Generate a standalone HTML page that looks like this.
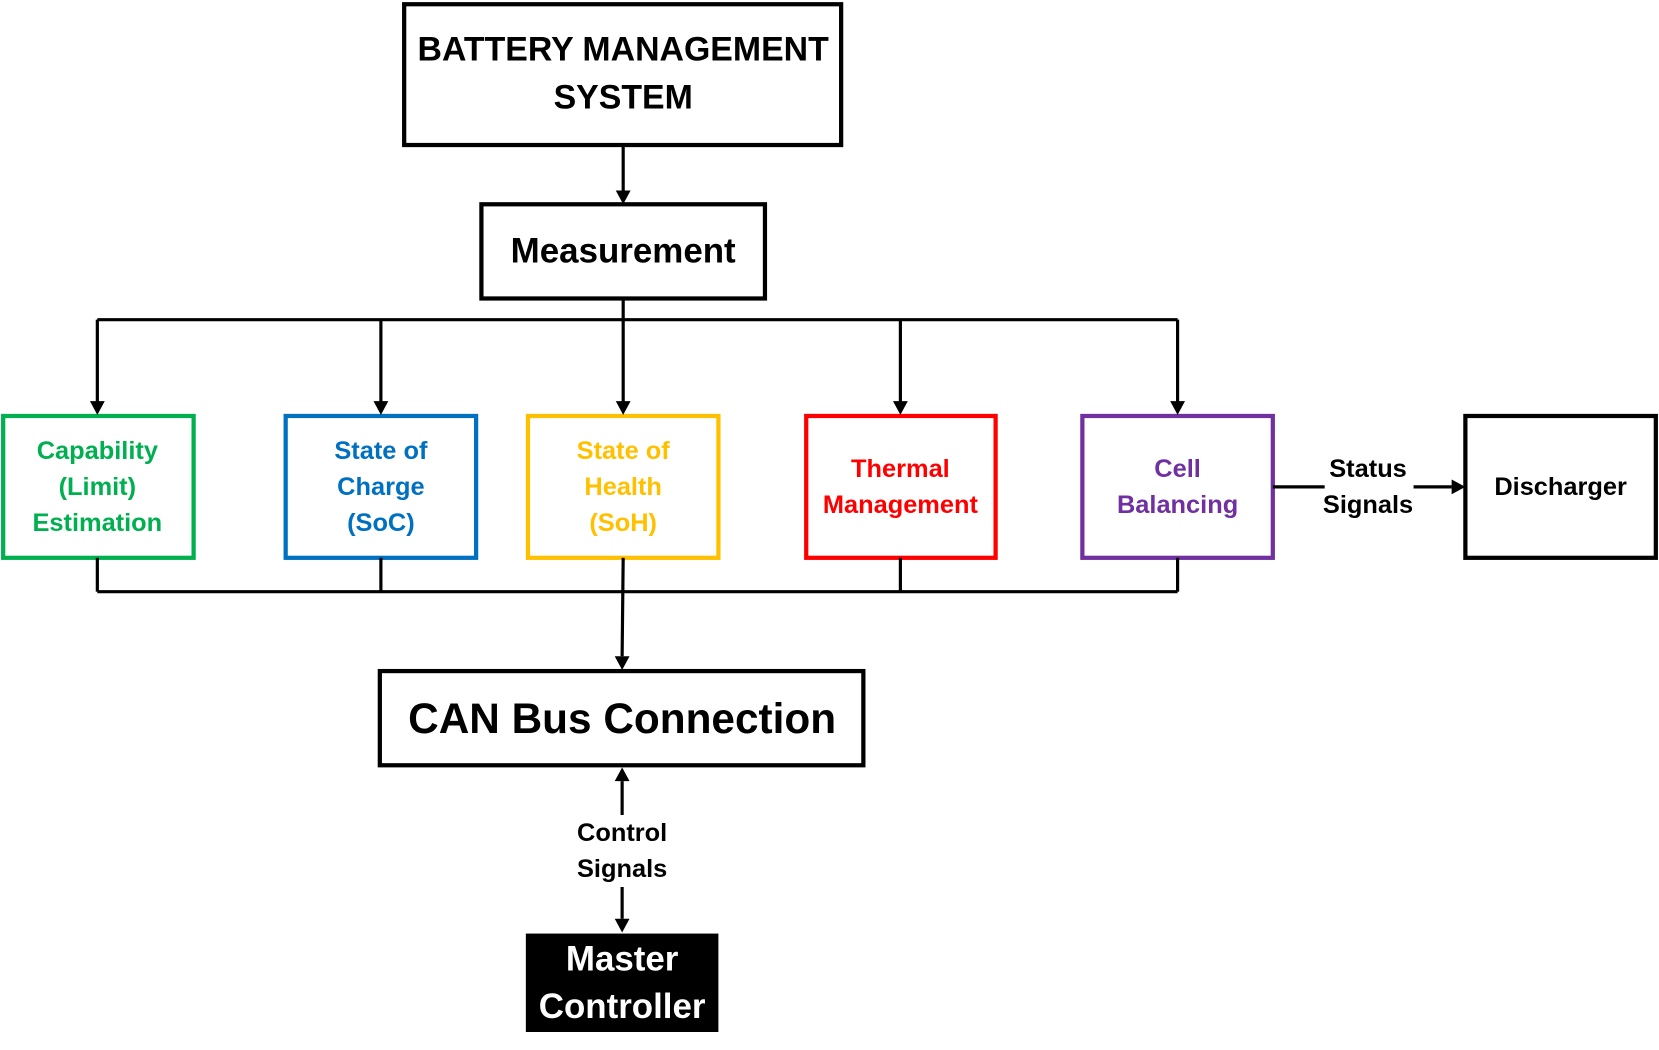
<!DOCTYPE html>
<html><head><meta charset="utf-8"><style>
html,body{margin:0;padding:0;background:#fff;}
svg{display:block;}
text{font-family:"Liberation Sans",sans-serif;font-weight:bold;text-anchor:middle;dominant-baseline:central;}
</style></head><body>
<svg width="1659" height="1050" viewBox="0 0 1568 992" preserveAspectRatio="none" xmlns="http://www.w3.org/2000/svg">
<g fill="none" stroke="#000" stroke-width="3">
<rect x="382" y="4" width="413" height="133" stroke-width="4"/>
<rect x="455" y="193" width="268" height="89" stroke-width="4"/>
<rect x="359" y="634" width="457" height="89" stroke-width="4"/>
<rect x="1385" y="393" width="180" height="134" stroke-width="4"/>
<rect x="3" y="393" width="180" height="134" stroke="#00b050" stroke-width="4"/>
<rect x="270" y="393" width="180" height="134" stroke="#0070c0" stroke-width="4"/>
<rect x="499" y="393" width="180" height="134" stroke="#ffc000" stroke-width="4"/>
<rect x="762" y="393" width="179" height="134" stroke="#ff0000" stroke-width="4"/>
<rect x="1023" y="393" width="180" height="134" stroke="#7030a0" stroke-width="4"/>
<line x1="589" y1="137" x2="589" y2="180"/>
<line x1="589" y1="282" x2="589" y2="302"/>
<line x1="92" y1="302" x2="1113" y2="302"/>
<line x1="92" y1="302" x2="92" y2="380"/>
<line x1="360" y1="302" x2="360" y2="380"/>
<line x1="589" y1="302" x2="589" y2="380"/>
<line x1="851" y1="302" x2="851" y2="380"/>
<line x1="1113" y1="302" x2="1113" y2="380"/>
<line x1="92" y1="527" x2="92" y2="559"/>
<line x1="360" y1="527" x2="360" y2="559"/>
<line x1="851" y1="527" x2="851" y2="559"/>
<line x1="1113" y1="527" x2="1113" y2="559"/>
<line x1="92" y1="559" x2="1113" y2="559"/>
<line x1="589" y1="527" x2="588" y2="620"/>
<line x1="588" y1="770" x2="588" y2="738"/>
<line x1="588" y1="838" x2="588" y2="868"/>
<line x1="1203" y1="460" x2="1252" y2="460"/>
<line x1="1336" y1="460" x2="1372" y2="460"/>
</g>
<g fill="#000">
<path d="M582,180 L596,180 L589,193 z"/>
<path d="M85,379 L99,379 L92,392 z"/>
<path d="M353,379 L367,379 L360,392 z"/>
<path d="M582,379 L596,379 L589,392 z"/>
<path d="M844,379 L858,379 L851,392 z"/>
<path d="M1106,379 L1120,379 L1113,392 z"/>
<path d="M581,620 L595,620 L588,633 z"/>
<path d="M581,738 L595,738 L588,725 z"/>
<path d="M581,868 L595,868 L588,881 z"/>
<path d="M1372,453 L1372,467 L1385,460 z"/>
<rect x="497" y="882" width="182" height="93"/>
</g>
<g font-size="32">
<text x="589" y="47">BATTERY MANAGEMENT</text>
<text x="589" y="92">SYSTEM</text>
<text x="589" y="237" font-size="33">Measurement</text>
</g>
<text x="588" y="679" font-size="40">CAN Bus Connection</text>
<g font-size="33" fill="#fff"><text x="588" y="906" fill="#fff">Master</text><text x="588" y="951" fill="#fff">Controller</text></g>
<g font-size="24">
<g fill="#00b050"><text x="92" y="426">Capability</text><text x="92" y="460">(Limit)</text><text x="92" y="494">Estimation</text></g>
<g fill="#0070c0"><text x="360" y="426">State of</text><text x="360" y="460">Charge</text><text x="360" y="494">(SoC)</text></g>
<g fill="#ffc000"><text x="589" y="426">State of</text><text x="589" y="460">Health</text><text x="589" y="494">(SoH)</text></g>
<g fill="#ff0000"><text x="851" y="443">Thermal</text><text x="851" y="477">Management</text></g>
<g fill="#7030a0"><text x="1113" y="443">Cell</text><text x="1113" y="477">Balancing</text></g>
<text x="1475" y="460">Discharger</text>
<text x="1293" y="443">Status</text><text x="1293" y="477">Signals</text>
<text x="588" y="787">Control</text><text x="588" y="821">Signals</text>
</g>
</svg>
</body></html>
